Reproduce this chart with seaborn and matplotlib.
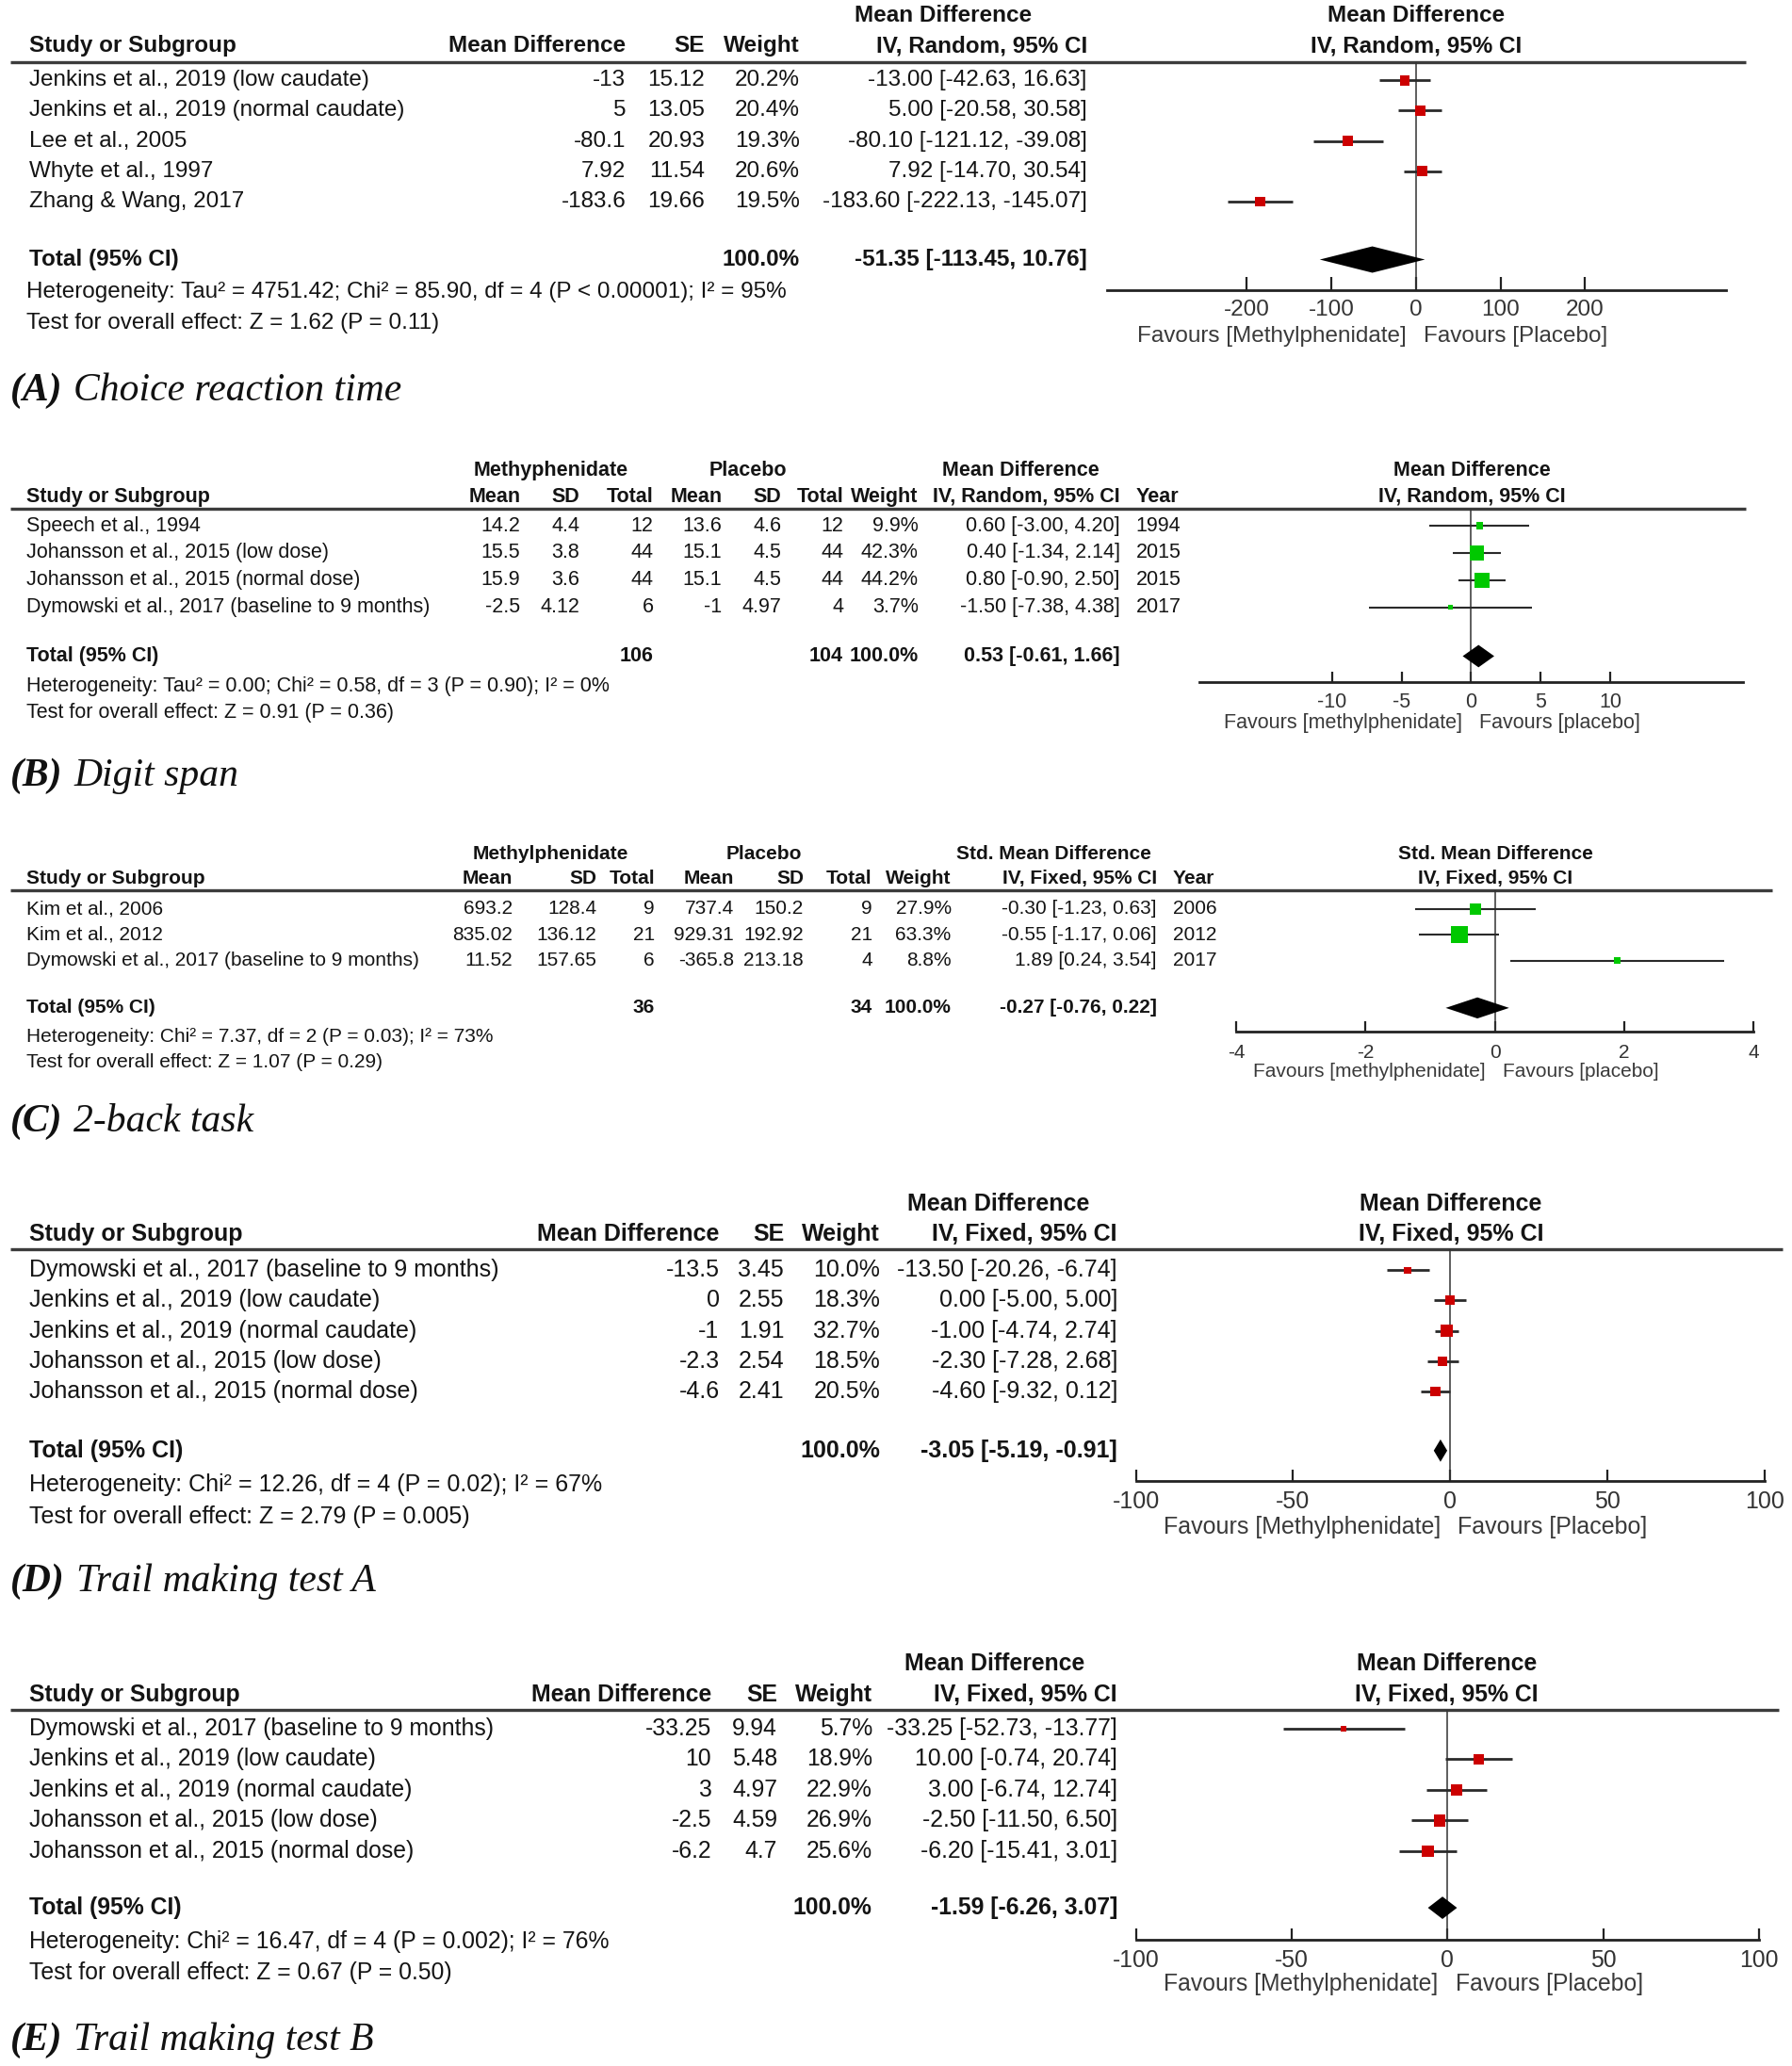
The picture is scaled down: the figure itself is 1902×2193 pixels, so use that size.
import numpy as np
import pandas as pd
import matplotlib
matplotlib.use("Agg")
import matplotlib.pyplot as plt
import seaborn as sns

# ======================= DATA =======================
# (A) Choice reaction time
A_studies = ["Jenkins et al., 2019 (low caudate)", "Jenkins et al., 2019 (normal caudate)",
             "Lee et al., 2005", "Whyte et al., 1997", "Zhang & Wang, 2017"]
A_md = [-13, 5, -80.1, 7.92, -183.6]
A_se = [15.12, 13.05, 20.93, 11.54, 19.66]
A_weight = [20.2, 20.4, 19.3, 20.6, 19.5]
A_est = [-13.00, 5.00, -80.10, 7.92, -183.60]
A_lo = [-42.63, -20.58, -121.12, -14.70, -222.13]
A_hi = [16.63, 30.58, -39.08, 30.54, -145.07]
A_total = [-51.35, -113.45, 10.76]
A_ticks = [-200, -100, 0, 100, 200]
A_het = "Heterogeneity: Tau\u00b2 = 4751.42; Chi\u00b2 = 85.90, df = 4 (P < 0.00001); I\u00b2 = 95%"
A_test = "Test for overall effect: Z = 1.62 (P = 0.11)"

# (B) Digit span
B_studies = ["Speech et al., 1994", "Johansson et al., 2015 (low dose)",
             "Johansson et al., 2015 (normal dose)", "Dymowski et al., 2017 (baseline to 9 months)"]
B_mph_mean = [14.2, 15.5, 15.9, -2.5]
B_mph_sd = [4.4, 3.8, 3.6, 4.12]
B_mph_n = [12, 44, 44, 6]
B_pla_mean = [13.6, 15.1, 15.1, -1]
B_pla_sd = [4.6, 4.5, 4.5, 4.97]
B_pla_n = [12, 44, 44, 4]
B_weight = [9.9, 42.3, 44.2, 3.7]
B_est = [0.60, 0.40, 0.80, -1.50]
B_lo = [-3.00, -1.34, -0.90, -7.38]
B_hi = [4.20, 2.14, 2.50, 4.38]
B_year = [1994, 2015, 2015, 2017]
B_total_n = [106, 104]
B_total = [0.53, -0.61, 1.66]
B_ticks = [-10, -5, 0, 5, 10]
B_het = "Heterogeneity: Tau\u00b2 = 0.00; Chi\u00b2 = 0.58, df = 3 (P = 0.90); I\u00b2 = 0%"
B_test = "Test for overall effect: Z = 0.91 (P = 0.36)"

# (C) 2-back task
C_studies = ["Kim et al., 2006", "Kim et al., 2012", "Dymowski et al., 2017 (baseline to 9 months)"]
C_mph_mean = [693.2, 835.02, 11.52]
C_mph_sd = [128.4, 136.12, 157.65]
C_mph_n = [9, 21, 6]
C_pla_mean = [737.4, 929.31, -365.8]
C_pla_sd = [150.2, 192.92, 213.18]
C_pla_n = [9, 21, 4]
C_weight = [27.9, 63.3, 8.8]
C_est = [-0.30, -0.55, 1.89]
C_lo = [-1.23, -1.17, 0.24]
C_hi = [0.63, 0.06, 3.54]
C_year = [2006, 2012, 2017]
C_total_n = [36, 34]
C_total = [-0.27, -0.76, 0.22]
C_ticks = [-4, -2, 0, 2, 4]
C_het = "Heterogeneity: Chi\u00b2 = 7.37, df = 2 (P = 0.03); I\u00b2 = 73%"
C_test = "Test for overall effect: Z = 1.07 (P = 0.29)"

# (D) Trail making test A
D_studies = ["Dymowski et al., 2017 (baseline to 9 months)", "Jenkins et al., 2019 (low caudate)",
             "Jenkins et al., 2019 (normal caudate)", "Johansson et al., 2015 (low dose)",
             "Johansson et al., 2015 (normal dose)"]
D_md = [-13.5, 0, -1, -2.3, -4.6]
D_se = [3.45, 2.55, 1.91, 2.54, 2.41]
D_weight = [10.0, 18.3, 32.7, 18.5, 20.5]
D_est = [-13.50, 0.00, -1.00, -2.30, -4.60]
D_lo = [-20.26, -5.00, -4.74, -7.28, -9.32]
D_hi = [-6.74, 5.00, 2.74, 2.68, 0.12]
D_total = [-3.05, -5.19, -0.91]
D_ticks = [-100, -50, 0, 50, 100]
D_het = "Heterogeneity: Chi\u00b2 = 12.26, df = 4 (P = 0.02); I\u00b2 = 67%"
D_test = "Test for overall effect: Z = 2.79 (P = 0.005)"

# (E) Trail making test B
E_studies = ["Dymowski et al., 2017 (baseline to 9 months)", "Jenkins et al., 2019 (low caudate)",
             "Jenkins et al., 2019 (normal caudate)", "Johansson et al., 2015 (low dose)",
             "Johansson et al., 2015 (normal dose)"]
E_md = [-33.25, 10, 3, -2.5, -6.2]
E_se = [9.94, 5.48, 4.97, 4.59, 4.7]
E_weight = [5.7, 18.9, 22.9, 26.9, 25.6]
E_est = [-33.25, 10.00, 3.00, -2.50, -6.20]
E_lo = [-52.73, -0.74, -6.74, -11.50, -15.41]
E_hi = [-13.77, 20.74, 12.74, 6.50, 3.01]
E_total = [-1.59, -6.26, 3.07]
E_ticks = [-100, -50, 0, 50, 100]
E_het = "Heterogeneity: Chi\u00b2 = 16.47, df = 4 (P = 0.002); I\u00b2 = 76%"
E_test = "Test for overall effect: Z = 0.67 (P = 0.50)"

# ======================= STYLE / LAYOUT =======================
sns.set_style("white")
SANS = ['Liberation Sans', 'DejaVu Sans']
SERIF = ['Liberation Serif', 'DejaVu Serif']
plt.rcParams['font.family'] = SANS
plt.rcParams['axes.unicode_minus'] = False

W, H = 1902, 2193
S = W / 1360.0          # layout below is written in 1360-wide units
RED = '#CC0000'
GREEN = '#00C800'
TXT = '#141414'

fig = plt.figure(figsize=(W / 100, H / 100), dpi=100)
T = fig.add_axes([0, 0, 1, 1])
T.set_xlim(0, W)
T.set_ylim(H, 0)
T.axis('off')


def put(x, y, s, ha='left', fs=17, bold=False, color=TXT):
    T.text(x * S, y * S, s, ha=ha, va='center', fontsize=fs,
           fontweight='bold' if bold else 'normal', color=color)


def hrule(y, x0, x1, lw=2.4, color='#3c3c3c'):
    T.plot([x0 * S, x1 * S], [y * S, y * S], color=color, lw=lw, solid_capstyle='butt')


def g(v):
    return f"{v:g}"


def pct(v):
    return f"{v:.1f}%"


def ci(e, l, h):
    return f"{e:.2f} [{l:.2f}, {h:.2f}]"


def panel_label(y, tag, title):
    fs = 30
    t1 = T.text(8 * S, y * S, tag, ha='left', va='baseline', fontsize=fs,
                fontstyle='italic', fontweight='bold', family=SERIF, color='#111')
    r = fig.canvas.get_renderer()
    bb = t1.get_window_extent(r)
    T.text(bb.x1 + 0.28 * fs * 100 / 72, y * S, title, ha='left', va='baseline', fontsize=fs,
           fontstyle='italic', family=SERIF, color='#111')


def forest(L, est, lo, hi, w, tot, color, ticks, fav_l, fav_r):
    x0, x1 = L['ax_x0'], L['ax_x1']
    top_px, bot_px = L['line_y'] * S, L['axis_y'] * S
    ax = fig.add_axes([x0 * S / W, 1 - bot_px / H, (x1 - x0) * S / W, (bot_px - top_px) / H])
    ax.set_facecolor('none')
    n = len(est)
    df = pd.DataFrame({'est': est, 'lo': lo, 'hi': hi, 'w': w, 'row': np.arange(n)})
    dy = L['row_dy']
    ax.axvline(0, color='#333333', lw=1.1, zorder=1)
    ax.hlines(df['row'], df['lo'], df['hi'], color='#2a2a2a', lw=L['ci_lw'], zorder=2)
    sns.scatterplot(data=df, x='est', y='row', size='w', sizes=(0, L['msz'] * 100),
                    size_norm=(0, 100), marker='s', color=color, linewidth=0,
                    legend=False, ax=ax, zorder=3)
    ty = (L['total_y'] - L['rows_y0']) / dy
    hh = L['dia_h'] / dy
    e, l, u = tot
    ax.fill([l, e, u, e], [ty, ty - hh, ty, ty + hh], color='black', lw=0, zorder=3)
    ax.set_xlim((x0 - L['zero_x']) / L['ppu'], (x1 - L['zero_x']) / L['ppu'])
    ax.set_ylim((L['axis_y'] - L['rows_y0']) / dy, (L['line_y'] - L['rows_y0']) / dy)
    for s in ['top', 'right', 'left']:
        ax.spines[s].set_visible(False)
    ax.spines['bottom'].set_linewidth(2.0)
    ax.spines['bottom'].set_color('#222222')
    ax.set_xticks(ticks)
    ax.set_xticklabels([str(t) for t in ticks])
    ax.set_yticks([])
    ax.set_xlabel('')
    ax.set_ylabel('')
    fs = L['fs']
    pad_px = (L['tick_y'] - L['axis_y']) * S - 0.62 * fs * 100 / 72 + 6
    ax.tick_params(axis='x', direction='in', length=L['tick_len'], width=1.6, colors='#222222',
                   labelsize=fs, pad=pad_px * 0.72, labelcolor='#333333', bottom=True)
    zx = L['zero_x']
    put(zx - 7, L['fav_y'], fav_l, ha='right', fs=fs, color='#3a3a3a')
    put(zx + 6, L['fav_y'], fav_r, ha='left', fs=fs, color='#3a3a3a')
    return ax


# ---------------- Panel A ----------------
LA = dict(fs=17.5, line_y=47, rows_y0=61, row_dy=23, total_y=197, axis_y=220,
          ax_x0=840, ax_x1=1310, zero_x=1074.5, ppu=0.6425, tick_y=234, fav_y=255,
          msz=3.0, ci_lw=2.0, dia_h=10, tick_len=10)
fs = LA['fs']
put(716, 12, "Mean Difference", 'center', fs, True)
put(1075, 12, "Mean Difference", 'center', fs, True)
put(22, 35, "Study or Subgroup", 'left', fs, True)
put(475, 35, "Mean Difference", 'right', fs, True)
put(535, 35, "SE", 'right', fs, True)
put(607, 35, "Weight", 'right', fs, True)
put(825, 35, "IV, Random, 95% CI", 'right', fs, True)
put(1075, 35, "IV, Random, 95% CI", 'center', fs, True)
hrule(47, 8, 1325)
for i in range(len(A_studies)):
    y = LA['rows_y0'] + i * LA['row_dy']
    put(22, y, A_studies[i], 'left', fs)
    put(475, y, g(A_md[i]), 'right', fs)
    put(535, y, g(A_se[i]), 'right', fs)
    put(607, y, pct(A_weight[i]), 'right', fs)
    put(825, y, ci(A_est[i], A_lo[i], A_hi[i]), 'right', fs)
put(22, 197, "Total (95% CI)", 'left', fs, True)
put(607, 197, pct(sum(A_weight)), 'right', fs, True)
put(825, 197, ci(*A_total), 'right', fs, True)
put(20, 222, A_het, 'left', fs)
put(20, 245, A_test, 'left', fs)
forest(LA, A_est, A_lo, A_hi, A_weight, A_total, RED, A_ticks,
       "Favours [Methylphenidate]", "Favours [Placebo]")
panel_label(304, "(A)", "Choice reaction time")

# ---------------- Panel B ----------------
LB = dict(fs=15.5, line_y=386, rows_y0=399, row_dy=20.67, total_y=498, axis_y=518,
          ax_x0=910, ax_x1=1323, zero_x=1116.5, ppu=10.55, tick_y=531, fav_y=549,
          msz=2.9, ci_lw=1.5, dia_h=8.5, tick_len=8)
fs = LB['fs']
put(418, 357, "Methyphenidate", 'center', fs, True)
put(568, 357, "Placebo", 'center', fs, True)
put(775, 357, "Mean Difference", 'center', fs, True)
put(1117, 357, "Mean Difference", 'center', fs, True)
hdrB = [("Mean", 395), ("SD", 440), ("Total", 496), ("Mean", 548), ("SD", 593),
        ("Total", 640), ("Weight", 697), ("IV, Random, 95% CI", 850)]
put(20, 377, "Study or Subgroup", 'left', fs, True)
for txt, xr in hdrB:
    put(xr, 377, txt, 'right', fs, True)
put(862, 377, "Year", 'left', fs, True)
put(1117, 377, "IV, Random, 95% CI", 'center', fs, True)
hrule(386, 8, 1325)
for i in range(len(B_studies)):
    y = LB['rows_y0'] + i * LB['row_dy']
    put(20, y, B_studies[i], 'left', fs)
    vals = [g(B_mph_mean[i]), g(B_mph_sd[i]), str(B_mph_n[i]), g(B_pla_mean[i]),
            g(B_pla_sd[i]), str(B_pla_n[i]), pct(B_weight[i]), ci(B_est[i], B_lo[i], B_hi[i])]
    for v, (_, xr) in zip(vals, hdrB):
        put(xr, y, v, 'right', fs)
    put(862, y, str(B_year[i]), 'left', fs)
put(20, 498, "Total (95% CI)", 'left', fs, True)
put(496, 498, str(B_total_n[0]), 'right', fs, True)
put(640, 498, str(B_total_n[1]), 'right', fs, True)
put(697, 498, "100.0%", 'right', fs, True)
put(850, 498, ci(*B_total), 'right', fs, True)
put(20, 521, B_het, 'left', fs)
put(20, 541, B_test, 'left', fs)
forest(LB, B_est, B_lo, B_hi, B_weight, B_total, GREEN, B_ticks,
       "Favours [methylphenidate]", "Favours [placebo]")
panel_label(596, "(B)", "Digit span")

# ---------------- Panel C ----------------
LC = dict(fs=15, line_y=676, rows_y0=690, row_dy=19.5, total_y=765, axis_y=783,
          ax_x0=938, ax_x1=1331, zero_x=1134.5, ppu=49.1, tick_y=797, fav_y=813,
          msz=2.6, ci_lw=1.5, dia_h=8, tick_len=8)
fs = LC['fs']
put(418, 648, "Methylphenidate", 'center', fs, True)
put(580, 648, "Placebo", 'center', fs, True)
put(800, 648, "Std. Mean Difference", 'center', fs, True)
put(1135, 648, "Std. Mean Difference", 'center', fs, True)
hdrC = [("Mean", 389), ("SD", 453), ("Total", 497), ("Mean", 557), ("SD", 610),
        ("Total", 662), ("Weight", 722), ("IV, Fixed, 95% CI", 878)]
put(20, 667, "Study or Subgroup", 'left', fs, True)
for txt, xr in hdrC:
    put(xr, 667, txt, 'right', fs, True)
put(890, 667, "Year", 'left', fs, True)
put(1135, 667, "IV, Fixed, 95% CI", 'center', fs, True)
hrule(676, 8, 1345)
for i in range(len(C_studies)):
    y = LC['rows_y0'] + i * LC['row_dy']
    put(20, y, C_studies[i], 'left', fs)
    vals = [g(C_mph_mean[i]), g(C_mph_sd[i]), str(C_mph_n[i]), g(C_pla_mean[i]),
            g(C_pla_sd[i]), str(C_pla_n[i]), pct(C_weight[i]), ci(C_est[i], C_lo[i], C_hi[i])]
    for v, (_, xr) in zip(vals, hdrC):
        put(xr, y, v, 'right', fs)
    put(890, y, str(C_year[i]), 'left', fs)
put(20, 765, "Total (95% CI)", 'left', fs, True)
put(497, 765, str(C_total_n[0]), 'right', fs, True)
put(662, 765, str(C_total_n[1]), 'right', fs, True)
put(722, 765, "100.0%", 'right', fs, True)
put(878, 765, ci(*C_total), 'right', fs, True)
put(20, 787, C_het, 'left', fs)
put(20, 806, C_test, 'left', fs)
forest(LC, C_est, C_lo, C_hi, C_weight, C_total, GREEN, C_ticks,
       "Favours [methylphenidate]", "Favours [placebo]")
panel_label(859, "(C)", "2-back task")


# ---------------- Panels D and E (same table design) ----------------
def md_panel(L, hy1, hy2, studies, md, se, weight, est, lo, hi, total, ticks, het, test,
             cols, plot_x, line_x1, label_y, tag, title):
    fs = L['fs']
    x_md, x_se, x_w, x_ci, cx = cols
    put(cx, hy1, "Mean Difference", 'center', fs, True)
    put(plot_x, hy1, "Mean Difference", 'center', fs, True)
    put(22, hy2, "Study or Subgroup", 'left', fs, True)
    put(x_md, hy2, "Mean Difference", 'right', fs, True)
    put(x_se, hy2, "SE", 'right', fs, True)
    put(x_w, hy2, "Weight", 'right', fs, True)
    put(x_ci, hy2, "IV, Fixed, 95% CI", 'right', fs, True)
    put(plot_x, hy2, "IV, Fixed, 95% CI", 'center', fs, True)
    hrule(L['line_y'], 8, line_x1)
    for i in range(len(studies)):
        y = L['rows_y0'] + i * L['row_dy']
        put(22, y, studies[i], 'left', fs)
        put(x_md, y, g(md[i]), 'right', fs)
        put(x_se, y, g(se[i]), 'right', fs)
        put(x_w, y, pct(weight[i]), 'right', fs)
        put(x_ci, y, ci(est[i], lo[i], hi[i]), 'right', fs)
    put(22, L['total_y'], "Total (95% CI)", 'left', fs, True)
    put(x_w, L['total_y'], "100.0%", 'right', fs, True)
    put(x_ci, L['total_y'], ci(*total), 'right', fs, True)
    put(22, L['het_y'], het, 'left', fs)
    put(22, L['test_y'], test, 'left', fs)
    forest(L, est, lo, hi, weight, total, RED, ticks,
           "Favours [Methylphenidate]", "Favours [Placebo]")
    panel_label(label_y, tag, title)


LD = dict(fs=18, line_y=948, rows_y0=964, row_dy=23, total_y=1101, het_y=1127, test_y=1151,
          axis_y=1124, ax_x0=862, ax_x1=1339, zero_x=1100.5, ppu=2.385, tick_y=1138,
          fav_y=1159, msz=2.8, ci_lw=2.0, dia_h=8.5, tick_len=9)
md_panel(LD, 914, 937, D_studies, D_md, D_se, D_weight, D_est, D_lo, D_hi, D_total, D_ticks,
         D_het, D_test, (546, 595, 668, 848, 758), 1101, 1353, 1208, "(D)", "Trail making test A")

LE = dict(fs=17.8, line_y=1298, rows_y0=1312, row_dy=23.25, total_y=1448, het_y=1474, test_y=1497,
          axis_y=1472, ax_x0=862, ax_x1=1335, zero_x=1098.5, ppu=2.365, tick_y=1486,
          fav_y=1506, msz=3.2, ci_lw=2.0, dia_h=8.5, tick_len=9)
md_panel(LE, 1263, 1286, E_studies, E_md, E_se, E_weight, E_est, E_lo, E_hi, E_total, E_ticks,
         E_het, E_test, (540, 590, 662, 848, 755), 1098, 1350, 1556, "(E)", "Trail making test B")

fig.savefig("out.png", dpi=100, facecolor='white')
